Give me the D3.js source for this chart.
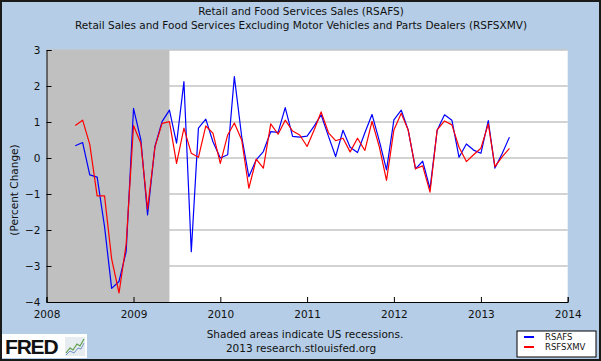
<!DOCTYPE html>
<html lang="en">
<head>
    <meta charset="UTF-8">
    <title>Retail and Food Services Sales</title>
    <script src="https://d3js.org/d3.v7.min.js"></script>
    <style>
        body { margin: 0; padding: 0; background: #ffffff; }
        svg { display: block; font-family: 'DejaVu Sans', Verdana, sans-serif; }
    </style>
</head>
<body>
    <svg id="chart" width="601" height="361"></svg>

    <script>
        // monthly percent change, May 2008 .. May 2013
        const startMonth = new Date(2008, 4, 1);
        const rsafs = [
            0.34, 0.43, -0.47, -0.53, -1.9, -3.62, -3.43, -2.6,
            1.38, 0.5, -1.58, 0.32, 1.01, 1.33, 0.41, 2.12, -2.6, 0.83, 1.08, 0.45,
            0.0, 0.09, 2.26, 0.59, -0.52, -0.05, 0.18, 0.73, 0.71, 1.4, 0.6, 0.58,
            0.61, 0.9, 1.2, 0.6, 0.04, 0.77, 0.3, 0.15, 0.7, 1.21, 0.47, -0.33,
            1.06, 1.33, 0.78, -0.3, -0.09, -0.85, 0.77, 1.2, 1.05, 0.02, 0.39, 0.22,
            0.13, 1.04, -0.28, 0.13, 0.58
        ];
        const rsfsxmv = [
            0.9, 1.05, 0.38, -1.05, -1.05, -2.8, -3.75, -2.4,
            0.9, 0.4, -1.42, 0.3, 0.96, 1.01, -0.15, 0.83, 0.13, 0.02, 0.89, 0.69,
            -0.15, 0.64, 0.97, 0.5, -0.84, -0.03, -0.28, 0.95, 0.66, 1.05, 0.75, 0.64,
            0.32, 0.8, 1.28, 0.7, 0.48, 0.55, 0.17, 0.55, 0.21, 1.02, 0.3, -0.62,
            0.78, 1.24, 0.78, -0.3, -0.22, -0.95, 0.78, 1.03, 0.92, 0.3, -0.1, 0.09,
            0.27, 0.95, -0.24, 0.04, 0.27
        ];
        const yTicks = [-4, -3, -2, -1, 0, 1, 2, 3];
        const xTickYears = [2008, 2009, 2010, 2011, 2012, 2013, 2014];
        const recession = [new Date(2007, 11, 1), new Date(2009, 5, 1)];
        const seriesNames = ["RSAFS", "RSFSXMV"];
        const seriesColors = ["#0000ff", "#ff0000"];

        const dates = d3.timeMonth.range(startMonth, d3.timeMonth.offset(startMonth, rsafs.length));

        const width = 601, height = 361;
        const plotLeft = 46.5, plotRight = 567.7, plotTop = 50, plotBottom = 302;

        const svg = d3.select("#chart");

        // background + frame
        svg.append("rect").attr("x", 0).attr("y", 0).attr("width", width).attr("height", height)
            .attr("fill", "#b5cde6");
        svg.append("rect").attr("x", 1).attr("y", 1).attr("width", width - 2).attr("height", height - 2)
            .attr("fill", "none").attr("stroke", "#1a1a1a").attr("stroke-width", 2);

        const x = d3.scaleTime()
            .domain([new Date(2008, 0, 1), new Date(2014, 0, 1)])
            .range([plotLeft, plotRight]);
        const y = d3.scaleLinear().domain([-4, 3]).range([plotBottom, plotTop]);

        // plot area
        svg.append("rect").attr("x", plotLeft).attr("y", plotTop)
            .attr("width", plotRight - plotLeft).attr("height", plotBottom - plotTop).attr("fill", "#ffffff");

        // gridlines
        svg.append("g").selectAll("line").data(yTicks.filter(d => d > -4)).join("line")
            .attr("x1", plotLeft).attr("x2", plotRight)
            .attr("y1", d => y(d)).attr("y2", d => y(d))
            .attr("stroke", "#c4c4c4").attr("stroke-width", 1.5);

        // recession shading
        const recStart = d3.max([recession[0], x.domain()[0]]);
        svg.append("rect")
            .attr("x", x(recStart))
            .attr("y", plotTop)
            .attr("width", x(recession[1]) - x(recStart))
            .attr("height", plotBottom - plotTop)
            .attr("fill", "#c0c0c0");

        // axes
        const yAxis = d3.axisLeft(y).tickValues(yTicks).tickFormat(d3.format("d"))
            .tickSize(-5).tickPadding(6);
        svg.append("g").attr("transform", `translate(${plotLeft},0)`).call(yAxis)
            .call(g => g.select(".domain").attr("stroke", "#000"))
            .call(g => g.selectAll(".tick line").attr("stroke", "#000"))
            .call(g => g.selectAll("text").attr("font-size", 10.5).attr("fill", "#111")
                .attr("font-family", "'DejaVu Sans', sans-serif"));

        const xAxis = d3.axisBottom(x)
            .tickValues(xTickYears.map(yr => new Date(yr, 0, 1)))
            .tickFormat(d3.timeFormat("%Y"))
            .tickSize(-5).tickPadding(9);
        svg.append("g").attr("transform", `translate(0,${plotBottom})`).call(xAxis)
            .call(g => g.select(".domain").attr("stroke", "#000"))
            .call(g => g.selectAll(".tick line").attr("stroke", "#000"))
            .call(g => g.selectAll("text").attr("font-size", 10.5).attr("fill", "#111")
                .attr("font-family", "'DejaVu Sans', sans-serif"));

        // lines
        const line = d3.line().x((d, i) => x(dates[i])).y(d => y(d));
        [rsafs, rsfsxmv].forEach((s, k) => {
            svg.append("path").datum(s)
                .attr("d", line)
                .attr("fill", "none")
                .attr("stroke", seriesColors[k])
                .attr("stroke-width", 1.2)
                .attr("stroke-linejoin", "round");
        });

        // titles
        svg.append("text").attr("x", 301).attr("y", 15).attr("text-anchor", "middle")
            .attr("font-size", 10.5).attr("fill", "#111")
            .text("Retail and Food Services Sales (RSAFS)");
        svg.append("text").attr("x", 301).attr("y", 29).attr("text-anchor", "middle")
            .attr("font-size", 10.5).attr("fill", "#111")
            .text("Retail Sales and Food Services Excluding Motor Vehicles and Parts Dealers (RSFSXMV)");

        svg.append("text")
            .attr("transform", "translate(18,190) rotate(-90)")
            .attr("text-anchor", "middle").attr("font-size", 10.5).attr("fill", "#111")
            .text("(Percent Change)");

        // footer
        svg.append("text").attr("x", 305).attr("y", 338).attr("text-anchor", "middle")
            .attr("font-size", 10.5).attr("fill", "#111")
            .text("Shaded areas indicate US recessions.");
        svg.append("text").attr("x", 301).attr("y", 352).attr("text-anchor", "middle")
            .attr("font-size", 10.5).attr("fill", "#111")
            .text("2013 research.stlouisfed.org");

        // legend
        const lg = svg.append("g").attr("transform", "translate(517,331)");
        lg.append("rect").attr("width", 79).attr("height", 26)
            .attr("fill", "#ffffff").attr("stroke", "#000").attr("stroke-width", 1);
        seriesNames.forEach((name, i) => {
            lg.append("line").attr("x1", 7).attr("x2", 17)
                .attr("y1", 6 + i * 10).attr("y2", 6 + i * 10)
                .attr("stroke", seriesColors[i]).attr("stroke-width", 2);
            lg.append("text").attr("x", 28).attr("y", 9 + i * 10)
                .attr("font-size", 8.5).attr("fill", "#111").text(name);
        });

        // FRED logo
        const logo = svg.append("g").attr("transform", "translate(2,334)");
        logo.append("rect").attr("width", 85).attr("height", 24).attr("fill", "#ffffff");
        logo.append("text").attr("x", 3).attr("y", 20)
            .attr("font-family", "'Liberation Sans', Arial, sans-serif")
            .attr("font-weight", "bold").attr("font-size", 21).attr("letter-spacing", -1.2)
            .attr("fill", "#111").text("FRED");
        logo.append("rect").attr("x", 63).attr("y", 3).attr("width", 20).attr("height", 19)
            .attr("fill", "#e6ecef");
        logo.append("path").attr("d", "M64,19 L68,14 L71,16 L75,10 L78,12 L82,5")
            .attr("fill", "none").attr("stroke", "#5c9e4a").attr("stroke-width", 1.2);
        logo.append("path").attr("d", "M64,21 L68,17 L72,19 L76,14 L79,15 L82,9")
            .attr("fill", "none").attr("stroke", "#6f93c8").attr("stroke-width", 1);
    </script>
</body>
</html>
